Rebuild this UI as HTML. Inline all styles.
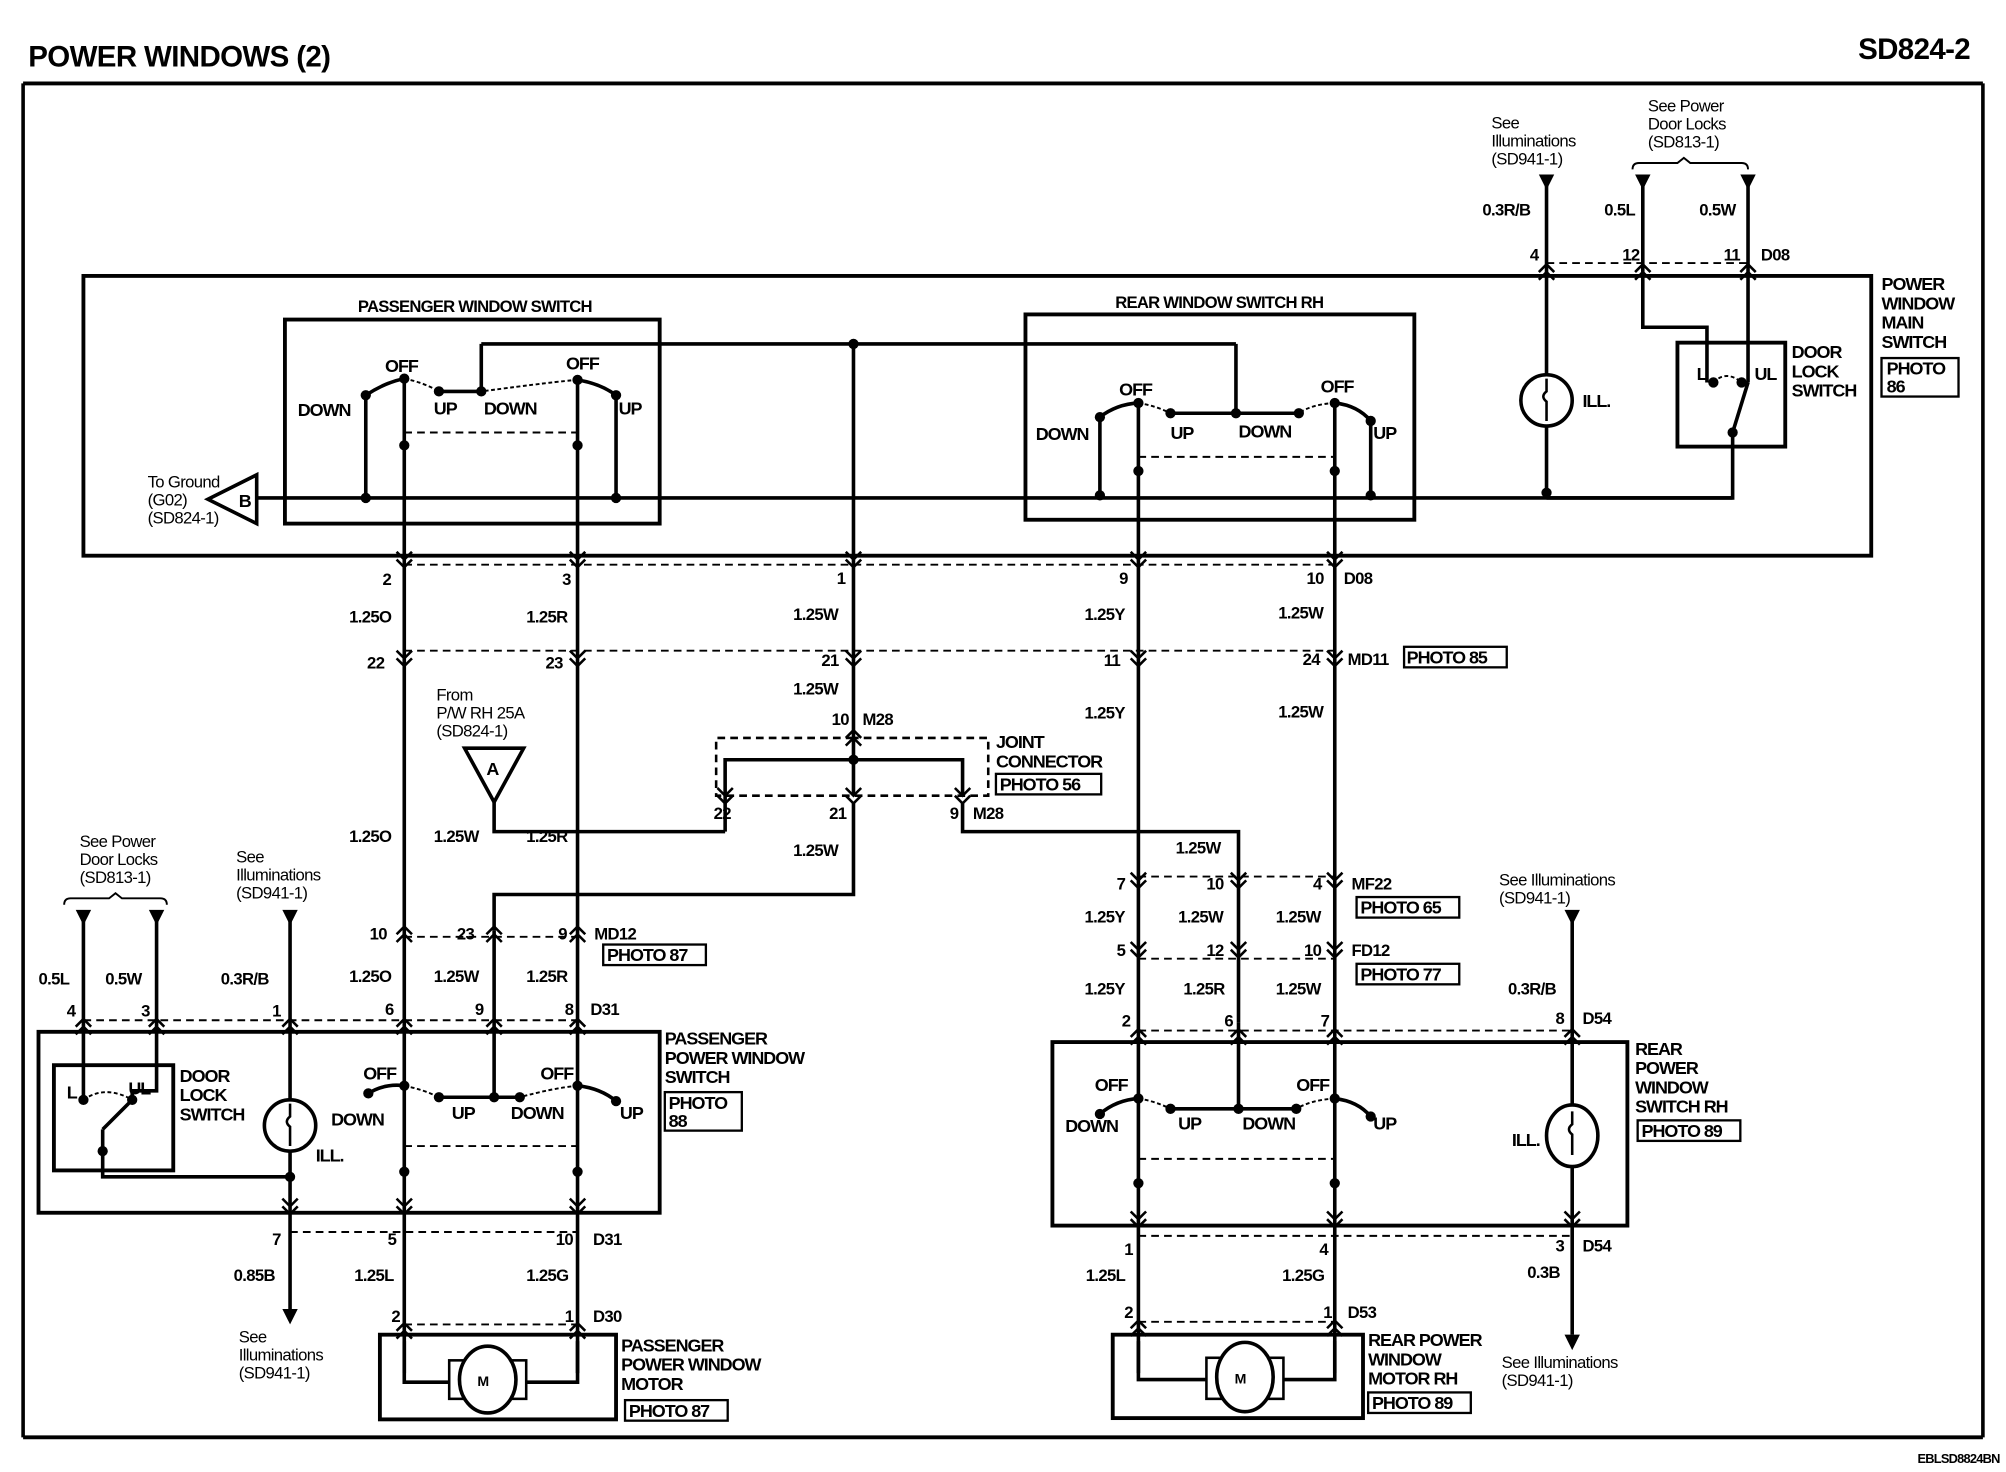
<!DOCTYPE html>
<html><head><meta charset="utf-8"><style>
html,body{margin:0;padding:0;background:#fff}
svg{display:block}
text{font-family:"Liberation Sans",sans-serif;fill:#000}
.b{font-weight:bold;font-size:13px;letter-spacing:-0.6px}
.t{font-weight:bold;font-size:14px;letter-spacing:-0.8px}
.n{font-size:13px;letter-spacing:-0.5px}
.w{font-size:13px;letter-spacing:-0.5px;font-weight:bold}
</style></head><body>
<svg width="2006" height="1472" viewBox="0 0 1563 1147" preserveAspectRatio="none" xmlns="http://www.w3.org/2000/svg">
<defs>
<path id="c" d="M-6,-6 L0,0 L6,-6 M-6,0 L0,6 L6,0" fill="none" stroke="#000" stroke-width="2"/>
</defs>
<rect width="1563" height="1147" fill="#fff"/>
<g stroke="#000" fill="none" stroke-width="2.8">
<line x1="18" y1="65" x2="1545" y2="65" stroke-width="3"/>
<line x1="18" y1="65" x2="18" y2="1120"/>
<line x1="1545" y1="65" x2="1545" y2="1120"/>
<line x1="18" y1="1120" x2="1545" y2="1120" stroke-width="3"/>
<rect x="65" y="215" width="1393" height="218" stroke-width="3"/>
<rect x="222" y="249" width="292" height="159" stroke-width="3"/>
<rect x="799" y="245" width="303" height="160" stroke-width="3"/>
<rect x="1307" y="267" width="84" height="81" stroke-width="3"/>
<line x1="200" y1="388" x2="1350" y2="388"/>
<polygon points="200,370 200,408 162,389" fill="#fff"/>
<line x1="285" y1="308" x2="285" y2="388"/><line x1="480" y1="308" x2="480" y2="388"/>
<path d="M285,308 Q300,298 315,295"/><path d="M450,296 Q468,299 480,308"/>
<path d="M315,295 Q330,298 342,305" stroke-dasharray="3,2" stroke-width="1.5"/>
<path d="M450,296 Q435,297 375,305" stroke-dasharray="3,2" stroke-width="1.5"/>
<line x1="342" y1="305" x2="375" y2="305"/>
<line x1="375" y1="305" x2="375" y2="268"/>
<line x1="375" y1="268" x2="963" y2="268"/>
<line x1="315" y1="295" x2="315" y2="433"/><line x1="450" y1="296" x2="450" y2="433"/>
<line x1="315" y1="337" x2="450" y2="337" stroke-dasharray="6,4" stroke-width="1.5"/>
<line x1="857" y1="325" x2="857" y2="386"/><line x1="1068" y1="328" x2="1068" y2="386"/>
<path d="M857,325 Q870,315 887,314"/><path d="M1040,314 Q1058,316 1068,328"/>
<path d="M887,314 Q900,316 912,322" stroke-dasharray="3,2" stroke-width="1.5"/>
<path d="M1040,314 Q1022,315 1012,322" stroke-dasharray="3,2" stroke-width="1.5"/>
<line x1="912" y1="322" x2="1012" y2="322"/>
<line x1="963" y1="322" x2="963" y2="268"/>
<line x1="887" y1="314" x2="887" y2="433"/><line x1="1040" y1="314" x2="1040" y2="433"/>
<line x1="887" y1="356" x2="1040" y2="356" stroke-dasharray="6,4" stroke-width="1.5"/>
<line x1="665" y1="268" x2="665" y2="433"/>
<line x1="1205" y1="210" x2="1205" y2="388"/>
<circle cx="1205" cy="312" r="20" fill="#fff"/>
<path d="M1205,295 v10 q-5,4 0,8 v15" stroke-width="2"/>
<polyline points="1280,210 1280,255 1330,255 1330,298"/>
<line x1="1362" y1="210" x2="1362" y2="298"/>
<line x1="1350" y1="337" x2="1362" y2="298"/>
<path d="M1335,298 Q1345,288 1357,298" stroke-dasharray="3,2" stroke-width="1.5"/>
<polyline points="1350,337 1350,388 1205,388"/>
<line x1="1205" y1="140" x2="1205" y2="210"/><line x1="1280" y1="140" x2="1280" y2="210"/><line x1="1362" y1="140" x2="1362" y2="210"/>
<path d="M1272,132 q0,-5 5,-5 h30 l5,-4 l5,4 h40 q5,0 5,5" stroke-width="1.5"/>
<line x1="1205" y1="205" x2="1362" y2="205" stroke-dasharray="6,4" stroke-width="1.5"/>
<line x1="315" y1="440" x2="1040" y2="440" stroke-dasharray="6,4" stroke-width="1.5"/>
<line x1="315" y1="507" x2="1040" y2="507" stroke-dasharray="6,4" stroke-width="1.5"/>
<line x1="315" y1="433" x2="315" y2="945"/>
<line x1="450" y1="433" x2="450" y2="945"/>
<line x1="665" y1="433" x2="665" y2="570"/>
<line x1="887" y1="433" x2="887" y2="955"/>
<line x1="1040" y1="433" x2="1040" y2="955"/>
<path d="M665,575 H558 V620 H770 V575 Z" stroke-dasharray="6,4" stroke-width="2"/>
<line x1="665" y1="570" x2="665" y2="620"/>
<polyline points="565,625 565,592 750,592 750,620"/>
<line x1="565" y1="625" x2="565" y2="648"/>
<polyline points="665,625 665,697 385,697 385,725"/>
<polyline points="750,625 750,648 965,648 965,797"/>
<polygon points="362,583 408,583 385,625" fill="#fff"/>
<polyline points="385,625 385,648 565,648"/>
<line x1="887" y1="683" x2="1040" y2="683" stroke-dasharray="6,4" stroke-width="1.5"/>
<line x1="887" y1="747" x2="1040" y2="747" stroke-dasharray="6,4" stroke-width="1.5"/>
<line x1="315" y1="730" x2="450" y2="730" stroke-dasharray="6,4" stroke-width="1.5"/>
<line x1="65" y1="795" x2="450" y2="795" stroke-dasharray="6,4" stroke-width="1.5"/>
<line x1="887" y1="803" x2="1225" y2="803" stroke-dasharray="6,4" stroke-width="1.5"/>
<line x1="385" y1="725" x2="385" y2="855"/>
<line x1="65" y1="713" x2="65" y2="857"/><polyline points="122,713 122,850 103,850 103,857"/>
<path d="M50,705 q0,-5 5,-5 h30 l5,-4 l5,4 h30 q5,0 5,5" stroke-width="1.5"/>
<line x1="226" y1="713" x2="226" y2="1025"/>
<rect x="30" y="804" width="484" height="141" stroke-width="3"/>
<rect x="42" y="830" width="93" height="82" stroke-width="3"/>
<polyline points="80,880 80,917 226,917"/>
<line x1="80" y1="880" x2="103" y2="857"/>
<path d="M65,857 Q82,845 103,857" stroke-dasharray="3,2" stroke-width="1.5"/>
<circle cx="226" cy="877" r="20" fill="#fff"/>
<path d="M226,860 v10 q-5,4 0,8 v15" stroke-width="2"/>
<path d="M287,852 Q300,844 315,846"/><path d="M450,846 Q468,848 480,858"/>
<path d="M315,846 Q330,849 342,855" stroke-dasharray="3,2" stroke-width="1.5"/>
<path d="M450,846 Q430,848 405,855" stroke-dasharray="3,2" stroke-width="1.5"/>
<line x1="342" y1="855" x2="405" y2="855"/>
<line x1="315" y1="893" x2="450" y2="893" stroke-dasharray="6,4" stroke-width="1.5"/>
<line x1="226" y1="960" x2="450" y2="960" stroke-dasharray="6,4" stroke-width="1.5"/>
<line x1="315" y1="945" x2="315" y2="1070"/><line x1="450" y1="945" x2="450" y2="1070"/>
<line x1="315" y1="1032" x2="450" y2="1032" stroke-dasharray="6,4" stroke-width="1.5"/>
<rect x="296" y="1040" width="184" height="66" stroke-width="3"/>
<polyline points="315,1045 315,1077 352,1077"/><polyline points="450,1045 450,1077 408,1077"/>
<rect x="350" y="1060" width="60" height="30" fill="#fff" stroke-width="2"/>
<ellipse cx="380" cy="1075" rx="22" ry="26" fill="#fff"/>
<rect x="820" y="812" width="448" height="143" stroke-width="3"/>
<path d="M857,868 Q870,857 887,856"/><path d="M1040,856 Q1058,858 1068,870"/>
<path d="M887,856 Q900,858 912,864" stroke-dasharray="3,2" stroke-width="1.5"/>
<path d="M1040,856 Q1022,857 1010,864" stroke-dasharray="3,2" stroke-width="1.5"/>
<line x1="912" y1="864" x2="1010" y2="864"/>
<line x1="965" y1="797" x2="965" y2="864"/>
<line x1="887" y1="903" x2="1040" y2="903" stroke-dasharray="6,4" stroke-width="1.5"/>
<line x1="1225" y1="713" x2="1225" y2="1040"/>
<ellipse cx="1225" cy="885" rx="20" ry="24" fill="#fff"/>
<path d="M1225,866 v10 q-5,4 0,8 v16" stroke-width="2"/>
<line x1="887" y1="963" x2="1225" y2="963" stroke-dasharray="6,4" stroke-width="1.5"/>
<line x1="887" y1="955" x2="887" y2="1070"/><line x1="1040" y1="955" x2="1040" y2="1070"/>
<line x1="887" y1="1030" x2="1040" y2="1030" stroke-dasharray="6,4" stroke-width="1.5"/>
<rect x="867" y="1040" width="195" height="65" stroke-width="3"/>
<polyline points="887,1045 887,1075 942,1075"/><polyline points="1040,1045 1040,1075 998,1075"/>
<rect x="940" y="1058" width="60" height="32" fill="#fff" stroke-width="2"/>
<ellipse cx="970" cy="1073" rx="22" ry="27" fill="#fff"/>
<g stroke-width="1.8">
<rect x="1466" y="279" width="60" height="30"/>
<rect x="1094" y="504" width="80" height="16"/>
<rect x="776" y="603" width="82" height="16"/>
<rect x="470" y="736" width="80" height="16"/>
<rect x="1057" y="699" width="80" height="16"/>
<rect x="1057" y="751" width="80" height="16"/>
<rect x="518" y="851" width="60" height="30"/>
<rect x="1276" y="873" width="80" height="16"/>
<rect x="487" y="1091" width="80" height="16"/>
<rect x="1066" y="1085" width="80" height="16"/>
</g>
</g>
<g fill="#000">
<polygon points="1199,136 1211,136 1205,148"/><polygon points="1274,136 1286,136 1280,148"/><polygon points="1356,136 1368,136 1362,148"/>
<polygon points="59,709 71,709 65,721"/><polygon points="116,709 128,709 122,721"/><polygon points="220,709 232,709 226,721"/>
<polygon points="1219,709 1231,709 1225,721"/>
<polygon points="220,1020 232,1020 226,1032"/><polygon points="1219,1040 1231,1040 1225,1052"/>
<circle cx="285" cy="308" r="4"/><circle cx="315" cy="295" r="4"/><circle cx="342" cy="305" r="4"/><circle cx="375" cy="305" r="4"/><circle cx="450" cy="296" r="4"/><circle cx="480" cy="308" r="4"/>
<circle cx="315" cy="347" r="4"/><circle cx="450" cy="347" r="4"/><circle cx="285" cy="388" r="4"/><circle cx="480" cy="388" r="4"/>
<circle cx="665" cy="268" r="4"/><circle cx="963" cy="322" r="4"/>
<circle cx="857" cy="325" r="4"/><circle cx="887" cy="314" r="4"/><circle cx="912" cy="322" r="4"/><circle cx="1012" cy="322" r="4"/><circle cx="1040" cy="314" r="4"/><circle cx="1068" cy="328" r="4"/>
<circle cx="887" cy="367" r="4"/><circle cx="1040" cy="367" r="4"/><circle cx="857" cy="386" r="4"/><circle cx="1068" cy="386" r="4"/><circle cx="1205" cy="384" r="4"/>
<circle cx="1335" cy="298" r="4"/><circle cx="1357" cy="298" r="4"/><circle cx="1350" cy="337" r="4"/>
<circle cx="665" cy="592" r="4"/>
<circle cx="65" cy="857" r="4"/><circle cx="103" cy="857" r="4"/><circle cx="80" cy="897" r="4"/><circle cx="226" cy="917" r="4"/>
<circle cx="287" cy="852" r="4"/><circle cx="315" cy="846" r="4"/><circle cx="342" cy="855" r="4"/><circle cx="385" cy="855" r="4"/><circle cx="405" cy="855" r="4"/><circle cx="450" cy="846" r="4"/><circle cx="480" cy="858" r="4"/>
<circle cx="315" cy="913" r="4"/><circle cx="450" cy="913" r="4"/>
<circle cx="857" cy="868" r="4"/><circle cx="887" cy="856" r="4"/><circle cx="912" cy="864" r="4"/><circle cx="965" cy="864" r="4"/><circle cx="1010" cy="864" r="4"/><circle cx="1040" cy="856" r="4"/><circle cx="1068" cy="870" r="4"/>
<circle cx="887" cy="922" r="4"/><circle cx="1040" cy="922" r="4"/>
</g>
<g>
<use href="#c" x="315" y="436"/><use href="#c" x="450" y="436"/><use href="#c" x="665" y="436"/><use href="#c" x="887" y="436"/><use href="#c" x="1040" y="436"/>
<use href="#c" x="315" y="513"/><use href="#c" x="450" y="513"/><use href="#c" x="665" y="513"/><use href="#c" x="887" y="513"/><use href="#c" x="1040" y="513"/>
<use href="#c" x="565" y="620"/><use href="#c" x="665" y="620"/><use href="#c" x="750" y="620"/>
<use href="#c" x="887" y="686"/><use href="#c" x="965" y="686"/><use href="#c" x="1040" y="686"/>
<use href="#c" x="887" y="740"/><use href="#c" x="965" y="740"/><use href="#c" x="1040" y="740"/>
<use href="#c" x="226" y="940"/><use href="#c" x="315" y="940"/><use href="#c" x="450" y="940"/>
<use href="#c" x="887" y="950"/><use href="#c" x="1040" y="950"/><use href="#c" x="1225" y="950"/>
<use href="#c" transform="translate(665,575) scale(1,-1)"/>
<use href="#c" transform="translate(1205,212) scale(1,-1)"/><use href="#c" transform="translate(1280,212) scale(1,-1)"/><use href="#c" transform="translate(1362,212) scale(1,-1)"/>
<use href="#c" transform="translate(315,728) scale(1,-1)"/><use href="#c" transform="translate(385,728) scale(1,-1)"/><use href="#c" transform="translate(450,728) scale(1,-1)"/>
<use href="#c" transform="translate(65,800) scale(1,-1)"/><use href="#c" transform="translate(122,800) scale(1,-1)"/><use href="#c" transform="translate(226,800) scale(1,-1)"/><use href="#c" transform="translate(315,800) scale(1,-1)"/><use href="#c" transform="translate(385,800) scale(1,-1)"/><use href="#c" transform="translate(450,800) scale(1,-1)"/>
<use href="#c" transform="translate(887,808) scale(1,-1)"/><use href="#c" transform="translate(965,808) scale(1,-1)"/><use href="#c" transform="translate(1040,808) scale(1,-1)"/><use href="#c" transform="translate(1225,808) scale(1,-1)"/>
<use href="#c" transform="translate(315,1037) scale(1,-1)"/><use href="#c" transform="translate(450,1037) scale(1,-1)"/>
<use href="#c" transform="translate(887,1035) scale(1,-1)"/><use href="#c" transform="translate(1040,1035) scale(1,-1)"/>
</g>
<text x="22" y="52" style="font-weight:bold;font-size:23px;letter-spacing:-0.5px">POWER WINDOWS (2)</text>
<text x="1535" y="46" text-anchor="end" style="font-weight:bold;font-size:23px;letter-spacing:-0.5px">SD824-2</text>
<text x="1558" y="1140" text-anchor="end" class="b" style="font-size:10px">EBLSD8824BN</text>
<text x="370" y="243" text-anchor="middle" class="b">PASSENGER WINDOW SWITCH</text>
<text x="950" y="240" text-anchor="middle" class="b">REAR WINDOW SWITCH RH</text>
<g class="t">
<text x="300" y="290">OFF</text><text x="441" y="288">OFF</text><text x="232" y="324">DOWN</text><text x="338" y="323">UP</text><text x="377" y="323">DOWN</text><text x="482" y="323">UP</text>
<text x="872" y="308">OFF</text><text x="1029" y="306">OFF</text><text x="807" y="343">DOWN</text><text x="912" y="342">UP</text><text x="965" y="341">DOWN</text><text x="1070" y="342">UP</text>
<text x="1233" y="317">ILL.</text><text x="1322" y="296">L</text><text x="1367" y="296">UL</text>
<text x="1396" y="279">DOOR</text><text x="1396" y="294">LOCK</text><text x="1396" y="309">SWITCH</text>
<text x="1466" y="226">POWER</text><text x="1466" y="241">WINDOW</text><text x="1466" y="256">MAIN</text><text x="1466" y="271">SWITCH</text>
<text x="1470" y="292">PHOTO</text><text x="1470" y="306">86</text>
<text x="186" y="395">B</text><text x="379" y="604">A</text>
<text x="1096" y="517">PHOTO 85</text><text x="779" y="616">PHOTO 56</text><text x="473" y="749">PHOTO 87</text><text x="1060" y="712">PHOTO 65</text><text x="1060" y="764">PHOTO 77</text>
<text x="776" y="583">JOINT</text><text x="776" y="598">CONNECTOR</text>
<text x="140" y="843">DOOR</text><text x="140" y="858">LOCK</text><text x="140" y="873">SWITCH</text>
<text x="52" y="856">L</text><text x="100" y="853">UL</text><text x="246" y="905">ILL.</text>
<text x="283" y="841">OFF</text><text x="421" y="841">OFF</text><text x="258" y="877">DOWN</text><text x="352" y="872">UP</text><text x="398" y="872">DOWN</text><text x="483" y="872">UP</text>
<text x="518" y="814">PASSENGER</text><text x="518" y="829">POWER WINDOW</text><text x="518" y="844">SWITCH</text>
<text x="521" y="864">PHOTO</text><text x="521" y="878">88</text>
<text x="853" y="850">OFF</text><text x="1010" y="850">OFF</text><text x="830" y="882">DOWN</text><text x="918" y="880">UP</text><text x="968" y="880">DOWN</text><text x="1070" y="880">UP</text>
<text x="1178" y="893">ILL.</text>
<text x="1274" y="822">REAR</text><text x="1274" y="837">POWER</text><text x="1274" y="852">WINDOW</text><text x="1274" y="867">SWITCH RH</text><text x="1279" y="886">PHOTO 89</text>
<text x="484" y="1053">PASSENGER</text><text x="484" y="1068">POWER WINDOW</text><text x="484" y="1083">MOTOR</text><text x="490" y="1104">PHOTO 87</text>
<text x="1066" y="1049">REAR POWER</text><text x="1066" y="1064">WINDOW</text><text x="1066" y="1079">MOTOR RH</text><text x="1069" y="1098">PHOTO 89</text>
<text x="372" y="1080" style="font-size:11px">M</text><text x="962" y="1078" style="font-size:11px">M</text>
</g>
<g class="w">
<text x="1155" y="168">0.3R/B</text><text x="1250" y="168">0.5L</text><text x="1324" y="168">0.5W</text>
<text x="1192" y="203">4</text><text x="1264" y="203">12</text><text x="1343" y="203">11</text><text x="1372" y="203">D08</text>
<text x="298" y="456">2</text><text x="438" y="456">3</text><text x="652" y="455">1</text><text x="872" y="455">9</text><text x="1018" y="455">10</text><text x="1047" y="455">D08</text>
<text x="272" y="485">1.25O</text><text x="410" y="485">1.25R</text><text x="618" y="483">1.25W</text><text x="845" y="483">1.25Y</text><text x="996" y="482">1.25W</text>
<text x="286" y="521">22</text><text x="425" y="521">23</text><text x="640" y="519">21</text><text x="860" y="519">11</text><text x="1015" y="518">24</text><text x="1050" y="518">MD11</text>
<text x="618" y="541">1.25W</text><text x="845" y="560">1.25Y</text><text x="996" y="559">1.25W</text>
<text x="648" y="565">10</text><text x="672" y="565">M28</text>
<text x="556" y="638">22</text><text x="646" y="638">21</text><text x="740" y="638">9</text><text x="758" y="638">M28</text>
<text x="618" y="667">1.25W</text><text x="272" y="656">1.25O</text><text x="338" y="656">1.25W</text><text x="410" y="656">1.25R</text>
<text x="916" y="665">1.25W</text>
<text x="870" y="693">7</text><text x="940" y="693">10</text><text x="1023" y="693">4</text><text x="1053" y="693">MF22</text>
<text x="845" y="719">1.25Y</text><text x="918" y="719">1.25W</text><text x="994" y="719">1.25W</text>
<text x="870" y="745">5</text><text x="940" y="745">12</text><text x="1016" y="745">10</text><text x="1053" y="745">FD12</text>
<text x="845" y="775">1.25Y</text><text x="922" y="775">1.25R</text><text x="994" y="775">1.25W</text>
<text x="874" y="800">2</text><text x="954" y="800">6</text><text x="1029" y="800">7</text><text x="1212" y="798">8</text><text x="1233" y="798">D54</text>
<text x="1175" y="775">0.3R/B</text>
<text x="288" y="732">10</text><text x="356" y="732">23</text><text x="435" y="732">9</text><text x="463" y="732">MD12</text>
<text x="272" y="765">1.25O</text><text x="338" y="765">1.25W</text><text x="410" y="765">1.25R</text>
<text x="300" y="791">6</text><text x="370" y="791">9</text><text x="440" y="791">8</text><text x="460" y="791">D31</text>
<text x="30" y="767">0.5L</text><text x="82" y="767">0.5W</text><text x="172" y="767">0.3R/B</text>
<text x="52" y="792">4</text><text x="110" y="792">3</text><text x="212" y="792">1</text>
<text x="212" y="970">7</text><text x="302" y="970">5</text><text x="433" y="970">10</text><text x="462" y="970">D31</text>
<text x="182" y="998">0.85B</text><text x="276" y="998">1.25L</text><text x="410" y="998">1.25G</text>
<text x="305" y="1030">2</text><text x="440" y="1030">1</text><text x="462" y="1030">D30</text>
<text x="876" y="978">1</text><text x="1028" y="978">4</text><text x="1212" y="975">3</text><text x="1233" y="975">D54</text>
<text x="846" y="998">1.25L</text><text x="999" y="998">1.25G</text><text x="1190" y="996">0.3B</text>
<text x="876" y="1027">2</text><text x="1031" y="1027">1</text><text x="1050" y="1027">D53</text>
</g>
<g class="n">
<text x="1162" y="100">See</text><text x="1162" y="114">Illuminations</text><text x="1162" y="128">(SD941-1)</text>
<text x="1284" y="87">See Power</text><text x="1284" y="101">Door Locks</text><text x="1284" y="115">(SD813-1)</text>
<text x="115" y="380">To Ground</text><text x="115" y="394">(G02)</text><text x="115" y="408">(SD824-1)</text>
<text x="340" y="546">From</text><text x="340" y="560">P/W RH 25A</text><text x="340" y="574">(SD824-1)</text>
<text x="62" y="660">See Power</text><text x="62" y="674">Door Locks</text><text x="62" y="688">(SD813-1)</text>
<text x="184" y="672">See</text><text x="184" y="686">Illuminations</text><text x="184" y="700">(SD941-1)</text>
<text x="1168" y="690">See Illuminations</text><text x="1168" y="704">(SD941-1)</text>
<text x="186" y="1046">See</text><text x="186" y="1060">Illuminations</text><text x="186" y="1074">(SD941-1)</text>
<text x="1170" y="1066">See Illuminations</text><text x="1170" y="1080">(SD941-1)</text>
</g>
</svg>
</body></html>
